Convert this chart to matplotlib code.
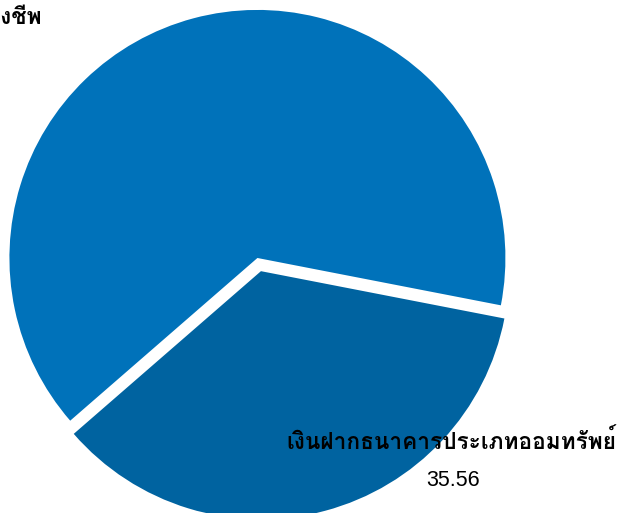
import matplotlib
matplotlib.use("Agg")
import matplotlib.pyplot as plt

# Pie values (percent)
labels = ["กองทุนสำรองเลี้ยงชีพ", "เงินฝากธนาคารประเภทออมทรัพย์"]
values = [64.44, 35.56]
colors = ["#0072BA", "#0063A0"]
explode = [0, 0.055]

THAI = ["Loma", "Liberation Sans", "DejaVu Sans"]
NUM = ["Liberation Sans", "DejaVu Sans"]


def main():
    fig = plt.figure(figsize=(6.19, 5.13), dpi=100)
    ax = fig.add_axes([0, 0, 1, 1])

    ax.pie(values, colors=colors, explode=explode, startangle=-11,
           counterclock=True, radius=1.0, wedgeprops=dict(linewidth=0))

    # pixel mapping: centre at (257.5, 258), radius 248 px
    ax.set_xlim(-1.038, 1.458)
    ax.set_ylim(-1.028, 1.040)
    ax.set_aspect('auto')
    ax.axis('off')

    # label of the big slice (mostly out of the picture on the left)
    ax.text(-0.868, 0.98, labels[0], ha='right', va='center',
            fontsize=16.3, fontweight='bold', family=THAI)
    ax.text(-1.7, 0.82, f"{values[0]:.2f}", ha='center', va='center',
            fontsize=15.5, family=NUM)

    # label of the small slice
    ax.text(0.782, -0.735, labels[1], ha='center', va='center',
            fontsize=16.3, fontweight='bold', family=THAI)
    ax.text(0.79, -0.895, f"{values[1]:.2f}", ha='center', va='center',
            fontsize=15.5, family=NUM)

    fig.savefig("out.png", dpi=100)


if __name__ == "__main__":
    main()
